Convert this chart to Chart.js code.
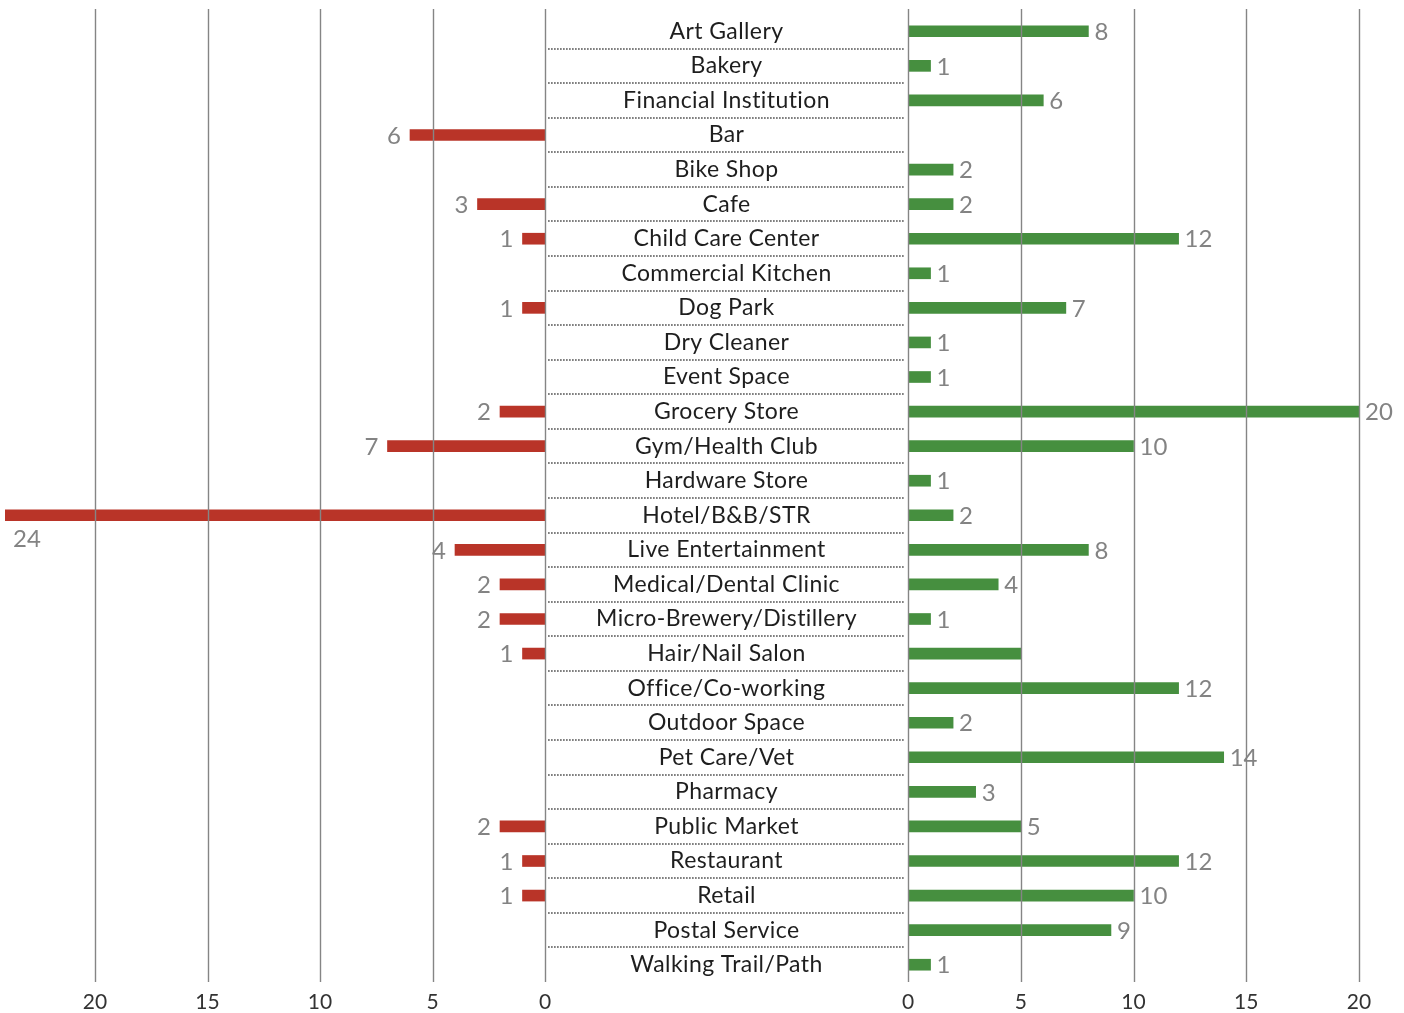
<!DOCTYPE html>
<html><head><meta charset="utf-8">
<script src="https://cdn.jsdelivr.net/npm/chart.js@4.4.1/dist/chart.umd.min.js"></script>
<style>
html,body{margin:0;padding:0;background:#fff;overflow:hidden;}
#wrap{position:relative;width:1404px;height:1013px;}
canvas{position:absolute;top:0;}
#left{left:0;}
#right{left:545px;}
</style></head><body>
<div id="wrap">
<canvas id="left" width="560" height="1013"></canvas>
<canvas id="right" width="859" height="1013"></canvas>
</div>
<script>
const categories = ['Art Gallery','Bakery','Financial Institution','Bar','Bike Shop','Cafe','Child Care Center','Commercial Kitchen','Dog Park','Dry Cleaner','Event Space','Grocery Store','Gym/Health Club','Hardware Store','Hotel/B&B/STR','Live Entertainment','Medical/Dental Clinic','Micro-Brewery/Distillery','Hair/Nail Salon','Office/Co-working','Outdoor Space','Pet Care/Vet','Pharmacy','Public Market','Restaurant','Retail','Postal Service','Walking Trail/Path'];
const leftValues = [null,null,null,6,null,3,1,null,1,null,null,2,7,null,24,4,2,2,1,null,null,null,null,2,1,1,null,null];
const rightValues = [8,1,6,null,2,2,12,1,7,1,1,20,10,1,2,8,4,1,5,12,2,14,3,5,12,10,9,1];
const rightUnlabeled = ['Hair/Nail Salon'];
const tickValues = [0,5,10,15,20];
const leftMax = 24;
const rightMax = 20;

const RED = '#b93428';
const GREEN = '#468f3f';
const GRID = '#858585';
const FONT = 'Lato, "Noto Sans", sans-serif';

const gridPlugin = {
  id: 'gridOver',
  afterDatasetsDraw(chart) {
    const ctx = chart.ctx, xs = chart.scales.x, a = chart.chartArea;
    ctx.save();
    ctx.strokeStyle = GRID; ctx.lineWidth = 1.4;
    xs.ticks.forEach(t => {
      const x = Math.round(xs.getPixelForValue(t.value)) + 0.5;
      ctx.beginPath(); ctx.moveTo(x, a.top - 5); ctx.lineTo(x, a.bottom); ctx.stroke();
    });
    ctx.restore();
  }
};

const valueLabels = {
  id: 'valueLabels',
  afterDatasetsDraw(chart, args, opts) {
    const ctx = chart.ctx, meta = chart.getDatasetMeta(0), data = chart.data.datasets[0].data;
    ctx.save();
    ctx.font = '24px ' + FONT; ctx.fillStyle = '#838383'; ctx.textBaseline = 'middle';
    meta.data.forEach((bar, i) => {
      const v = data[i];
      if (v == null) return;
      if (opts.hide && opts.hide.includes(categories[i])) return;
      const txt = String(v), w = ctx.measureText(txt).width;
      if (opts.side === 'left') {
        if (bar.x - 8 - w < 0) { ctx.textAlign = 'left'; ctx.fillText(txt, bar.x + 8, bar.y + 24); }
        else { ctx.textAlign = 'right'; ctx.fillText(txt, bar.x - 9, bar.y + 1); }
      } else {
        ctx.textAlign = 'left'; ctx.fillText(txt, bar.x + 6, bar.y + 1);
      }
    });
    ctx.restore();
  }
};

const middlePlugin = {
  id: 'middle',
  afterDraw(chart) {
    const ctx = chart.ctx, ys = chart.scales.y, a = chart.chartArea;
    ctx.save();
    ctx.strokeStyle = '#808080'; ctx.lineWidth = 2; ctx.setLineDash([1.7, 1.3]);
    for (let i = 0; i < categories.length - 1; i++) {
      const y = Math.round((ys.getPixelForValue(i) + ys.getPixelForValue(i + 1)) / 2);
      ctx.beginPath(); ctx.moveTo(3, y); ctx.lineTo(a.left - 3, y); ctx.stroke();
    }
    ctx.setLineDash([]);
    ctx.font = '23px ' + FONT; ctx.fillStyle = '#1e1e1e'; ctx.textAlign = 'center'; ctx.textBaseline = 'middle';
    if ('letterSpacing' in ctx) ctx.letterSpacing = '0.4px';
    categories.forEach((c, i) => ctx.fillText(c, a.left / 2, ys.getPixelForValue(i)));
    ctx.restore();
  }
};

function xScale(max, reverse) {
  return {
    type: 'linear', min: 0, max: max, reverse: reverse,
    afterBuildTicks: s => { s.ticks = tickValues.map(v => ({ value: v })); },
    afterFit: s => { s.height = 31; },
    grid: { display: false, drawTicks: false }, border: { display: false },
    ticks: { color: '#333', padding: 8, font: { family: FONT, size: 21 } }
  };
}

function cfg(values, color, max, reverse, padding, extra) {
  return {
    type: 'bar',
    data: { labels: categories, datasets: [{ data: values, backgroundColor: color, barThickness: 11 }] },
    options: {
      indexAxis: 'y', responsive: false, animation: false,
      layout: { padding: padding },
      plugins: { legend: { display: false }, tooltip: { enabled: false }, valueLabels: extra },
      scales: { x: xScale(max, reverse), y: { display: false } }
    },
    plugins: [gridPlugin, valueLabels].concat(extra.side === 'right' ? [middlePlugin] : [])
  };
}

new Chart(document.getElementById('left'), cfg(leftValues, RED, leftMax, true, { top: 14, left: 5, right: 15, bottom: 0 }, { side: 'left' }));
new Chart(document.getElementById('right'), cfg(rightValues, GREEN, rightMax, false, { top: 14, left: 363, right: 45, bottom: 0 }, { side: 'right', hide: rightUnlabeled }));
</script>
</body></html>
